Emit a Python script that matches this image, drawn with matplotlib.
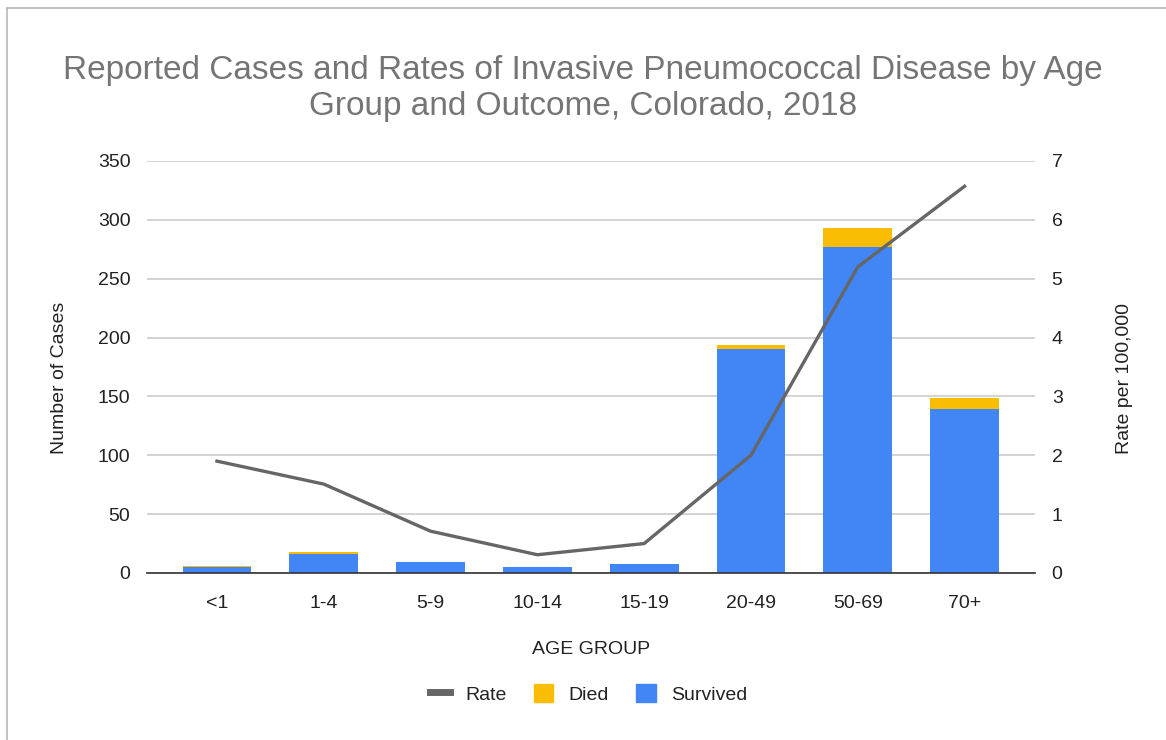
import numpy as np
import matplotlib.pyplot as plt
from matplotlib.lines import Line2D
from matplotlib.patches import Patch

plt.rcParams['font.family'] = ['Liberation Sans', 'DejaVu Sans']

age_groups = ['<1', '1-4', '5-9', '10-14', '15-19', '20-49', '50-69', '70+']
survived = [5, 16, 9, 5, 8, 190, 277, 139]
died = [1, 2, 0, 0, 0, 4, 16, 10]
rate = [1.90, 1.51, 0.71, 0.31, 0.50, 2.00, 5.20, 6.57]

blue = '#4285f4'
yellow = '#fbbc04'
line_col = '#666666'
grid_col = '#cccccc'
txt = '#222222'

fig = plt.figure(figsize=(11.66, 7.4), dpi=100)
ax = fig.add_axes([0.1261, 0.2257, 0.7616, 0.5568])
x = np.arange(len(age_groups))

ax.bar(x, survived, width=0.645, color=blue, zorder=2)
ax.bar(x, died, width=0.645, bottom=survived, color=yellow, zorder=2)
ax.set_xlim(-0.655, 7.66)
ax.set_ylim(0, 350)
ax.set_yticks(np.arange(0, 351, 50))
ax.set_xticks(x)
ax.set_xticklabels(age_groups)
ax.grid(axis='y', color=grid_col, linewidth=1.2, zorder=0)
for s in ['top', 'right', 'left']:
    ax.spines[s].set_visible(False)
ax.spines['bottom'].set_color('#333333')
ax.spines['bottom'].set_linewidth(1.2)
ax.spines['bottom'].set_zorder(3)
ax.tick_params(length=0, labelsize=14, colors=txt)
ax.tick_params(axis='x', pad=16)
ax.tick_params(axis='y', pad=12)
ax.set_ylabel('Number of Cases', fontsize=14, color=txt)
ax.yaxis.set_label_coords(-0.089, 0.473)
ax.set_xlabel('AGE GROUP', fontsize=14, color=txt, labelpad=21)

ax2 = ax.twinx()
ax2.plot(x, rate, color=line_col, linewidth=2.4, zorder=4)
ax2.set_ylim(0, 7)
ax2.set_yticks(np.arange(0, 8, 1))
for s in ax2.spines.values():
    s.set_visible(False)
ax2.tick_params(length=0, labelsize=14, colors=txt, pad=12)
ax2.set_ylabel('Rate per 100,000', fontsize=14, color=txt)
ax2.yaxis.set_label_coords(1.091, 0.473)

fig.text(0.5, 0.880, 'Reported Cases and Rates of Invasive Pneumococcal Disease by Age\nGroup and Outcome, Colorado, 2018',
         ha='center', va='center', fontsize=24, color='#757575', linespacing=1.2)

handles = [Line2D([0], [0], color=line_col, linewidth=5),
           Patch(color=yellow), Patch(color=blue)]
fig.legend(handles, ['Rate', 'Died', 'Survived'], loc='center', bbox_to_anchor=(0.505, 0.062),
           ncol=3, frameon=False, fontsize=14, handlelength=1.0, handleheight=1.0,
           columnspacing=1.4, handletextpad=0.8, labelcolor=txt)

# frame lines at top and left like the source screenshot
fig.add_artist(Line2D([7 / 1166, 1], [1 - 8 / 740, 1 - 8 / 740], color='#b7b7b7', linewidth=1.2))
fig.add_artist(Line2D([7 / 1166, 7 / 1166], [0, 1 - 8 / 740], color='#b7b7b7', linewidth=1.2))

fig.savefig('out.png', dpi=100, facecolor='white')
